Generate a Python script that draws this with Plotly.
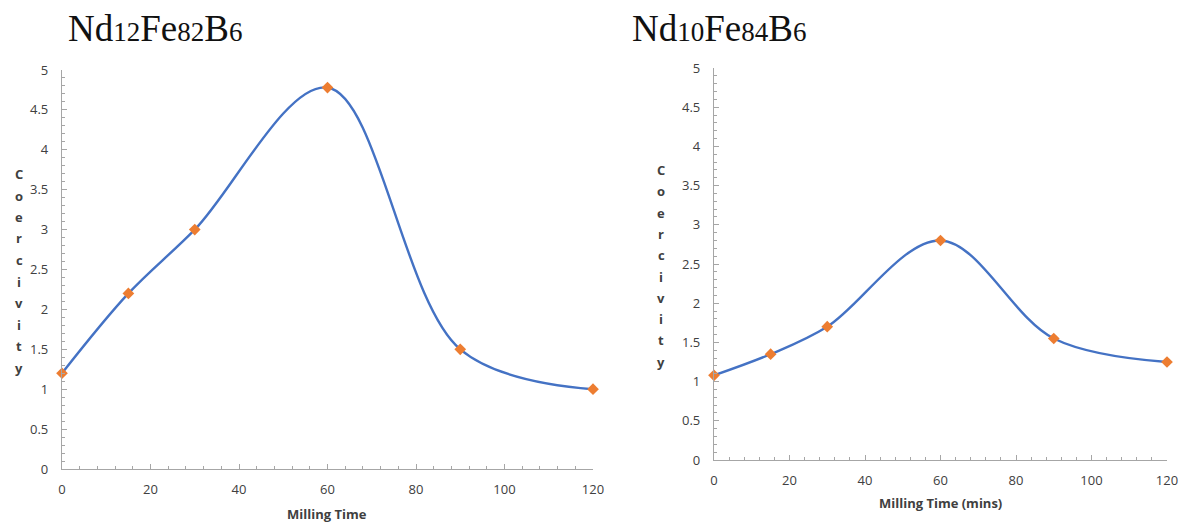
import plotly.graph_objects as go

# Data
milling_time = [0, 15, 30, 60, 90, 120]
coercivity_nd12 = [1.2, 2.2, 3.0, 4.78, 1.5, 1.0]
coercivity_nd10 = [1.08, 1.35, 1.7, 2.8, 1.55, 1.25]
y_ticks = [0, 0.5, 1, 1.5, 2, 2.5, 3, 3.5, 4, 4.5, 5]
y_tick_text = ["0", "0.5", "1", "1.5", "2", "2.5", "3", "3.5", "4", "4.5", "5"]
x_ticks = [0, 20, 40, 60, 80, 100, 120]
y_title = "Coercivity"

W, H = 1185, 523
LINE = "#4472C4"
MARK = "#ED7D31"
AX = "#A6A6A6"
TXT = "#404040"
FONT = "Open Sans"

fig = go.Figure()
for ys, xa, ya in [(coercivity_nd12, "x", "y"), (coercivity_nd10, "x2", "y2")]:
    fig.add_trace(go.Scatter(
        x=milling_time, y=ys, xaxis=xa, yaxis=ya, mode="lines+markers",
        line=dict(color=LINE, width=2.4, shape="spline", smoothing=1.0),
        marker=dict(symbol="diamond", size=9, color=MARK),
        cliponaxis=False, showlegend=False))

def xax(domain, anchor):
    return dict(domain=domain, range=[0, 120], tickvals=x_ticks, showgrid=False, zeroline=False,
                showline=True, linecolor=AX, linewidth=1.2, ticks="inside", ticklen=5,
                tickcolor=AX, ticklabelstandoff=8, anchor=anchor, automargin=False,
                minor=dict(dtick=4, ticks="inside", ticklen=3, tickcolor=AX),
                tickfont=dict(family=FONT, size=13, color=TXT), fixedrange=True)

def yax(domain, anchor):
    return dict(domain=domain, range=[0, 5], tickvals=y_ticks, ticktext=y_tick_text, showgrid=False,
                zeroline=False, showline=True, linecolor=AX, linewidth=1.2, ticks="inside",
                ticklen=5, tickcolor=AX, anchor=anchor, ticklabelstandoff=10, automargin=False,
                minor=dict(dtick=0.1, ticks="inside", ticklen=3, tickcolor=AX),
                tickfont=dict(family=FONT, size=13, color=TXT), fixedrange=True)

fig.update_layout(
    width=W, height=H, margin=dict(l=0, r=0, t=0, b=0, autoexpand=False),
    paper_bgcolor="white", plot_bgcolor="white",
    xaxis=xax([62 / W, 593 / W], "y"),
    yaxis=yax([54 / H, 453 / H], "x"),
    xaxis2=xax([714 / W, 1167 / W], "y2"),
    yaxis2=yax([63 / H, 455 / H], "x2"),
)

def sub(n):
    return f"<span style='font-size:27px'>{n}</span>"

ann = [
    dict(text="Nd" + sub("12") + "Fe" + sub("82") + "B" + sub("6"), x=66 / W, y=1 - 29 / H,
         xanchor="left", yanchor="middle", font=dict(family="Liberation Serif", size=37, color="#111")),
    dict(text="Nd" + sub("10") + "Fe" + sub("84") + "B" + sub("6"), x=630 / W, y=1 - 29 / H,
         xanchor="left", yanchor="middle", font=dict(family="Liberation Serif", size=37, color="#111")),
    dict(text="<b>Milling Time</b>", x=327 / W, y=1 - 514 / H, xanchor="center", yanchor="middle",
         font=dict(family=FONT, size=13, color=TXT)),
    dict(text="<b>Milling Time (mins)</b>", x=940 / W, y=1 - 503 / H, xanchor="center", yanchor="middle",
         font=dict(family=FONT, size=13, color=TXT)),
]
for x0, y0, step in [(19, 174, 21.5), (661, 170, 21.3)]:
    for k, c in enumerate(y_title):
        ann.append(dict(text="<b>%s</b>" % c, x=x0 / W, y=1 - (y0 + k * step) / H,
                        xanchor="center", yanchor="middle",
                        font=dict(family=FONT, size=13, color=TXT)))
for a in ann:
    a.update(xref="paper", yref="paper", showarrow=False)
fig.update_layout(annotations=ann)

fig.write_html("out.html", config={"displayModeBar": False},
               post_script="document.body.style.margin='0';document.body.style.overflow='hidden';")
